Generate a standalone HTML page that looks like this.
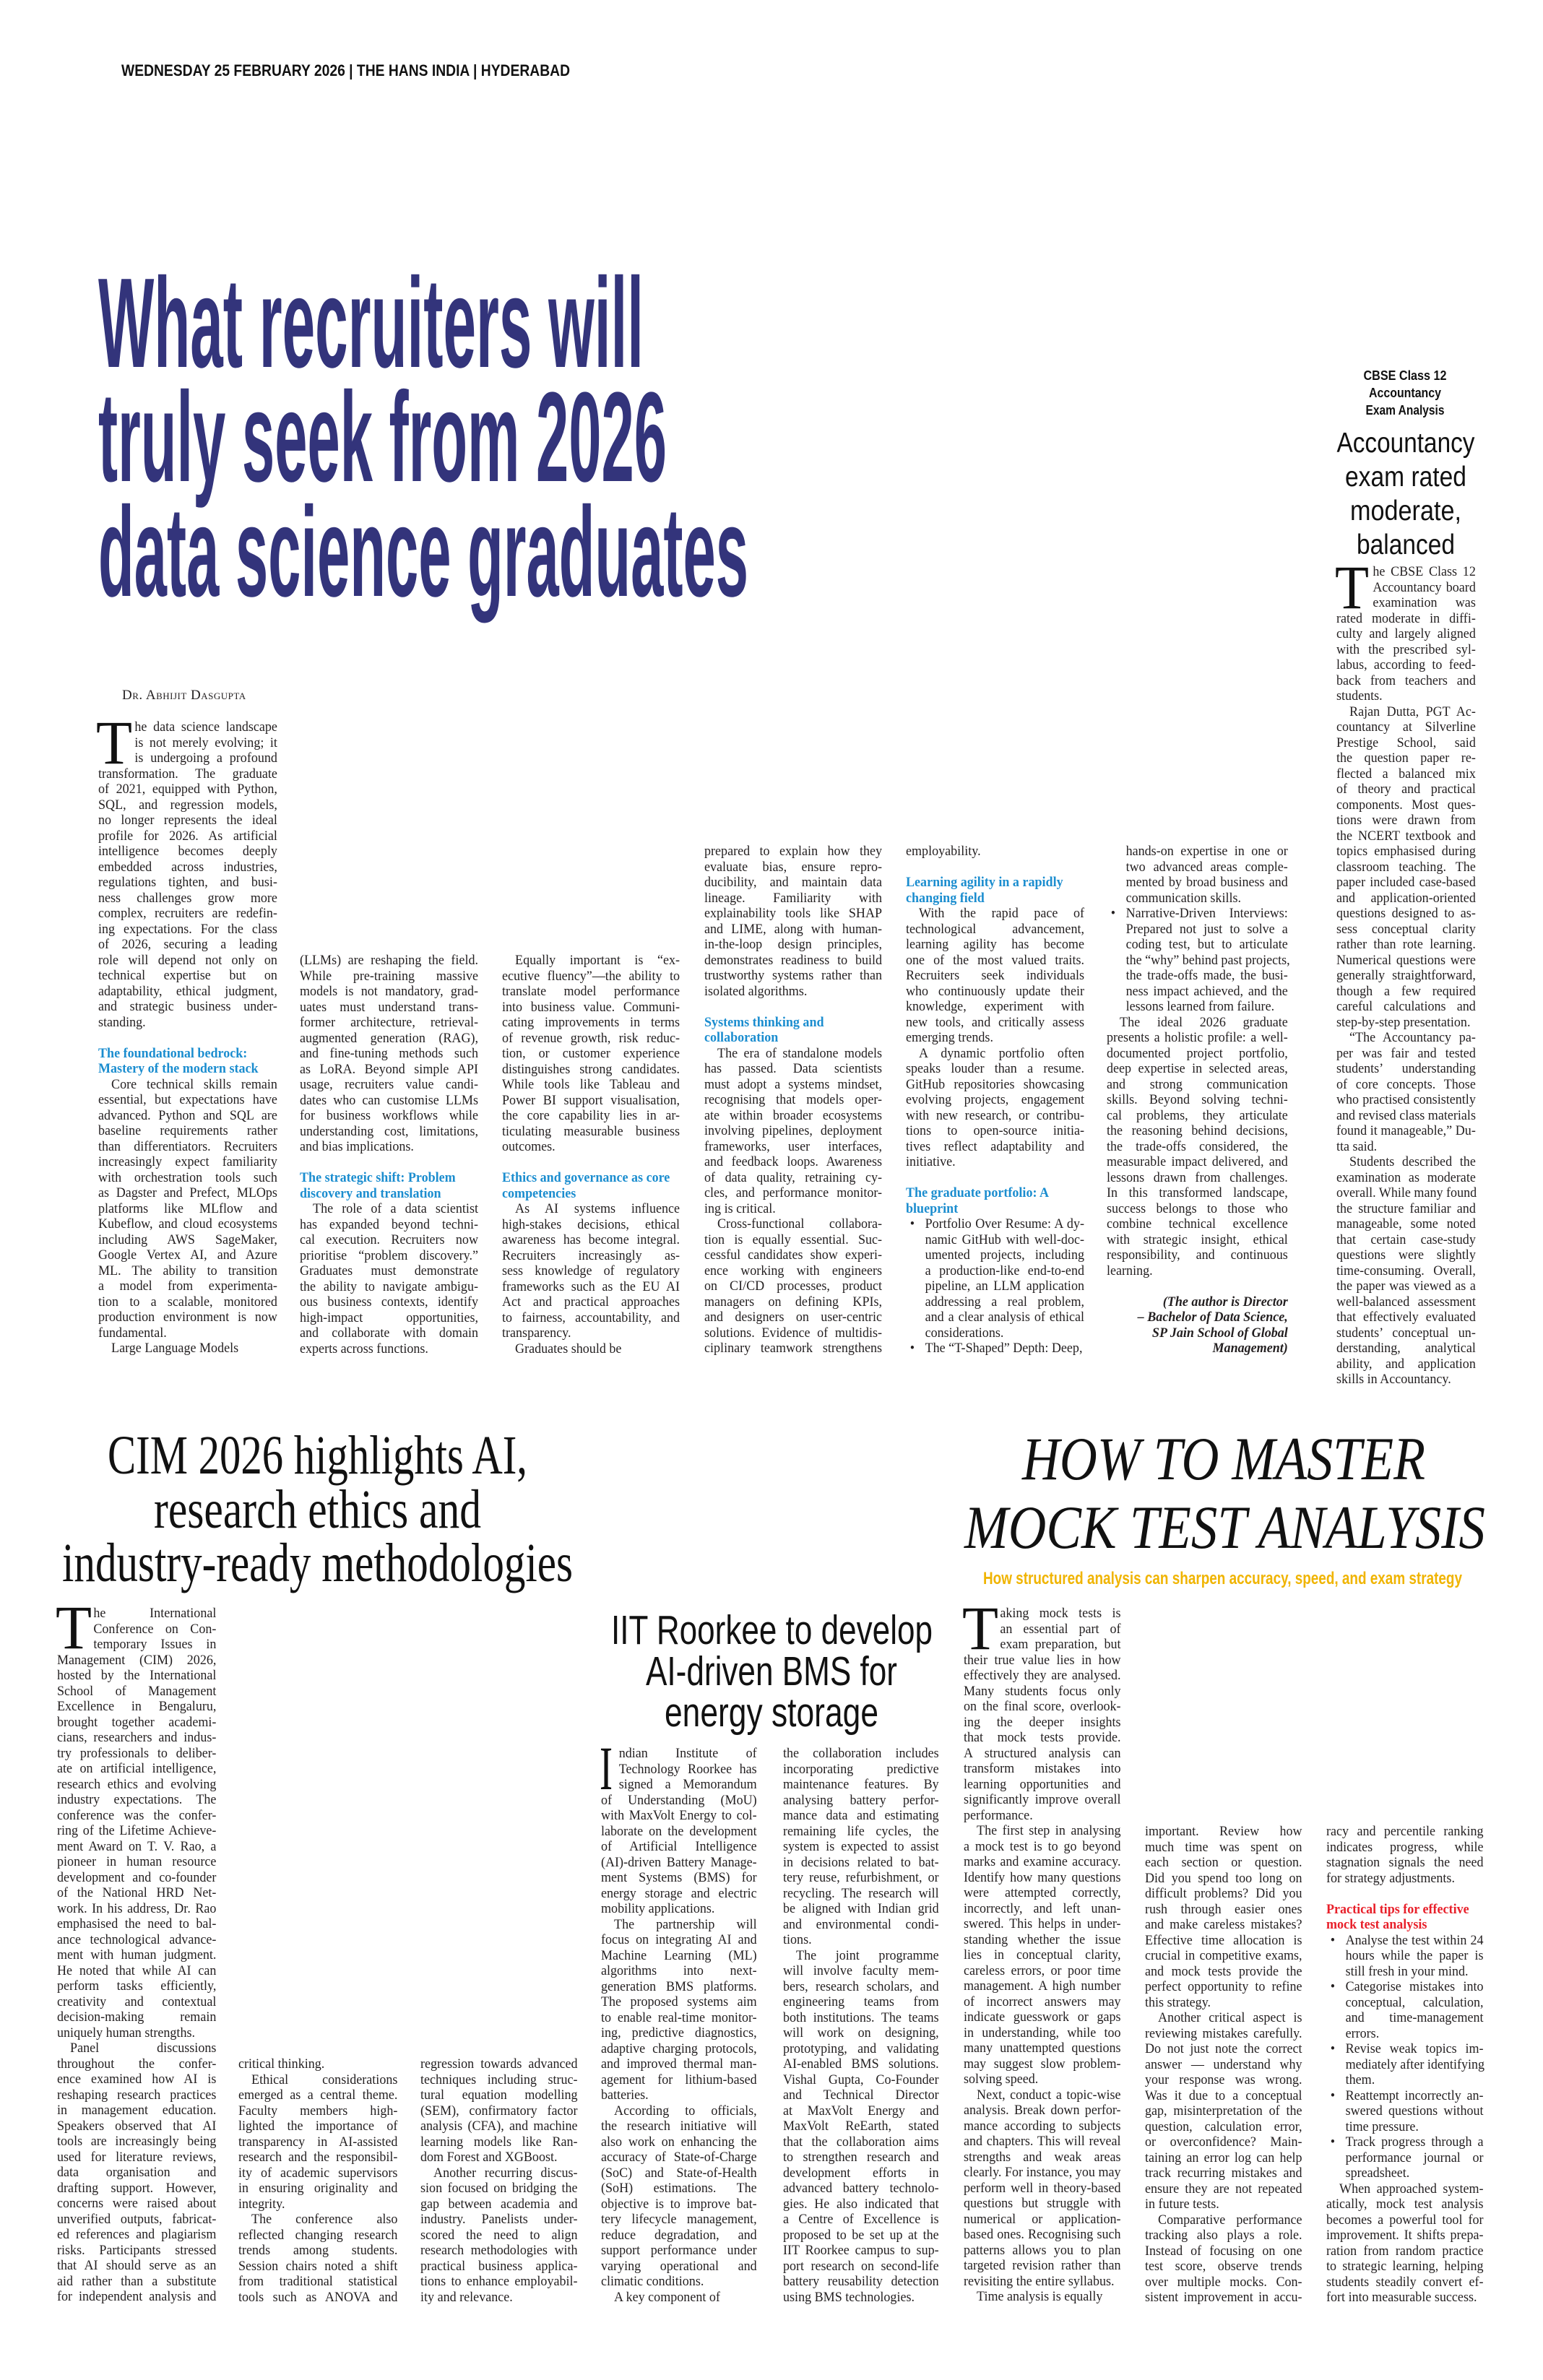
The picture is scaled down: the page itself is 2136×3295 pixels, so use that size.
<!DOCTYPE html>
<html><head><meta charset="utf-8">
<style>
html,body{margin:0;padding:0;background:#fff}
body{width:2136px;height:3295px;position:relative;overflow:hidden}
.col{position:absolute;font-family:"Liberation Serif",serif;font-size:19px;line-height:21.5px;color:#231f20;transform:scaleX(.95);transform-origin:0 0}
.col div{height:21.5px;white-space:nowrap;text-align:justify;text-align-last:justify}
.col div.e,.col div.h,.col div.r,.col div.x{text-align-last:left}
.col .i{padding-left:19px}
.col .d{padding-left:53px}
.col .dI{padding-left:26px}
.col .h{color:#1b8dcf;font-weight:bold}
.col .r{color:#e8202a;font-weight:bold}
.col .b{padding-left:28px;position:relative}
.col .b:before{content:"•";position:absolute;left:6px}
.col .bc{padding-left:28px}
.col .a{font-weight:bold;font-style:italic;text-align:right!important;text-align-last:right!important}
svg{position:absolute;left:0;top:0}
.by{position:absolute;left:169px;top:952px;font-family:"Liberation Serif",serif;font-size:19px;font-variant:small-caps;letter-spacing:.5px;color:#231f20}
</style></head><body>

<svg width="2136" height="3295" viewBox="0 0 2136 3295">
<text x="168" y="105" font-family="Liberation Sans Narrow, Liberation Sans, sans-serif" font-size="22" font-weight="bold" fill="#111" textLength="621" lengthAdjust="spacingAndGlyphs">WEDNESDAY 25 FEBRUARY 2026 | THE HANS INDIA | HYDERABAD</text>
<g font-family="Liberation Sans Narrow, Liberation Sans, sans-serif" font-weight="bold" font-size="177" fill="#33347b">
<text x="136" y="508" textLength="755" lengthAdjust="spacingAndGlyphs">What recruiters will</text>
<text x="136" y="666" textLength="787" lengthAdjust="spacingAndGlyphs">truly seek from 2026</text>
<text x="136" y="825" textLength="900" lengthAdjust="spacingAndGlyphs">data science graduates</text>
</g>
<g font-family="Liberation Sans Narrow, Liberation Sans, sans-serif" font-weight="bold" font-size="18" fill="#111" text-anchor="middle">
<text x="1945" y="526" textLength="115" lengthAdjust="spacingAndGlyphs">CBSE Class 12</text>
<text x="1945" y="550" textLength="100" lengthAdjust="spacingAndGlyphs">Accountancy</text>
<text x="1945" y="574" textLength="109" lengthAdjust="spacingAndGlyphs">Exam Analysis</text>
</g>
<g font-family="Liberation Sans Narrow, Liberation Sans, sans-serif" font-size="39" fill="#111" text-anchor="middle">
<text x="1946" y="626" textLength="191" lengthAdjust="spacingAndGlyphs">Accountancy</text>
<text x="1946" y="673" textLength="168" lengthAdjust="spacingAndGlyphs">exam rated</text>
<text x="1946" y="720" textLength="154" lengthAdjust="spacingAndGlyphs">moderate,</text>
<text x="1946" y="767" textLength="136" lengthAdjust="spacingAndGlyphs">balanced</text>
</g>
<g font-family="Liberation Serif, serif" font-size="76" fill="#111">
<text x="149" y="2040" textLength="581" lengthAdjust="spacingAndGlyphs">CIM 2026 highlights AI,</text>
<text x="213" y="2115" textLength="453" lengthAdjust="spacingAndGlyphs">research ethics and</text>
<text x="86" y="2189" textLength="707" lengthAdjust="spacingAndGlyphs">industry-ready methodologies</text>
</g>
<g font-family="Liberation Serif, serif" font-style="italic" font-size="85" fill="#111">
<text x="1415" y="2048" textLength="558" lengthAdjust="spacingAndGlyphs">HOW TO MASTER</text>
<text x="1335" y="2143" textLength="721" lengthAdjust="spacingAndGlyphs">MOCK TEST ANALYSIS</text>
</g>
<text x="1361" y="2193" font-family="Liberation Sans Narrow, Liberation Sans, sans-serif" font-weight="bold" font-size="24" fill="#f0b400" textLength="663" lengthAdjust="spacingAndGlyphs">How structured analysis can sharpen accuracy, speed, and exam strategy</text>
<g font-family="Liberation Sans Narrow, Liberation Sans, sans-serif" font-size="57" fill="#111">
<text x="846" y="2276" textLength="445" lengthAdjust="spacingAndGlyphs">IIT Roorkee to develop</text>
<text x="894" y="2333" textLength="348" lengthAdjust="spacingAndGlyphs">AI-driven BMS for</text>
<text x="920" y="2390" textLength="296" lengthAdjust="spacingAndGlyphs">energy storage</text>
</g>
<g font-family="Liberation Serif, serif" font-size="86" fill="#111">
<text x="133" y="1057" textLength="50" lengthAdjust="spacingAndGlyphs">T</text>
<text x="1848" y="842" textLength="47" lengthAdjust="spacingAndGlyphs">T</text>
<text x="77" y="2282" textLength="50" lengthAdjust="spacingAndGlyphs">T</text>
<text x="830" y="2477" textLength="18" lengthAdjust="spacingAndGlyphs">I</text>
<text x="1332" y="2283" textLength="50" lengthAdjust="spacingAndGlyphs">T</text>
</g>
</svg>

<div class="by">Dr. Abhijit Dasgupta</div>

<div class="col" style="left:136px;top:996px;width:261px">
<div class="d">he data science landscape</div>
<div class="d">is not merely evolving; it</div>
<div class="d">is undergoing a profound</div>
<div>transformation. The graduate</div>
<div>of 2021, equipped with Python,</div>
<div>SQL, and regression models,</div>
<div>no longer represents the ideal</div>
<div>profile for 2026. As artificial</div>
<div>intelligence becomes deeply</div>
<div>embedded across industries,</div>
<div>regulations tighten, and busi-</div>
<div>ness challenges grow more</div>
<div>complex, recruiters are redefin-</div>
<div>ing expectations. For the class</div>
<div>of 2026, securing a leading</div>
<div>role will depend not only on</div>
<div>technical expertise but on</div>
<div>adaptability, ethical judgment,</div>
<div>and strategic business under-</div>
<div class="e">standing.</div>
<div class="x"></div>
<div class="h">The foundational bedrock:</div>
<div class="h">Mastery of the modern stack</div>
<div class="i">Core technical skills remain</div>
<div>essential, but expectations have</div>
<div>advanced. Python and SQL are</div>
<div>baseline requirements rather</div>
<div>than differentiators. Recruiters</div>
<div>increasingly expect familiarity</div>
<div>with orchestration tools such</div>
<div>as Dagster and Prefect, MLOps</div>
<div>platforms like MLflow and</div>
<div>Kubeflow, and cloud ecosystems</div>
<div>including AWS SageMaker,</div>
<div>Google Vertex AI, and Azure</div>
<div>ML. The ability to transition</div>
<div>a model from experimenta-</div>
<div>tion to a scalable, monitored</div>
<div>production environment is now</div>
<div class="e">fundamental.</div>
<div class="i e">Large Language Models</div>
</div>

<div class="col" style="left:415px;top:1319px;width:260px">
<div>(LLMs) are reshaping the field.</div>
<div>While pre-training massive</div>
<div>models is not mandatory, grad-</div>
<div>uates must understand trans-</div>
<div>former architecture, retrieval-</div>
<div>augmented generation (RAG),</div>
<div>and fine-tuning methods such</div>
<div>as LoRA. Beyond simple API</div>
<div>usage, recruiters value candi-</div>
<div>dates who can customise LLMs</div>
<div>for business workflows while</div>
<div>understanding cost, limitations,</div>
<div class="e">and bias implications.</div>
<div class="x"></div>
<div class="h">The strategic shift: Problem</div>
<div class="h">discovery and translation</div>
<div class="i">The role of a data scientist</div>
<div>has expanded beyond techni-</div>
<div>cal execution. Recruiters now</div>
<div>prioritise &ldquo;problem discovery.&rdquo;</div>
<div>Graduates must demonstrate</div>
<div>the ability to navigate ambigu-</div>
<div>ous business contexts, identify</div>
<div>high-impact opportunities,</div>
<div>and collaborate with domain</div>
<div class="e">experts across functions.</div>
</div>

<div class="col" style="left:695px;top:1319px;width:259px">
<div class="i">Equally important is &ldquo;ex-</div>
<div>ecutive fluency&rdquo;&mdash;the ability to</div>
<div>translate model performance</div>
<div>into business value. Communi-</div>
<div>cating improvements in terms</div>
<div>of revenue growth, risk reduc-</div>
<div>tion, or customer experience</div>
<div>distinguishes strong candidates.</div>
<div>While tools like Tableau and</div>
<div>Power BI support visualisation,</div>
<div>the core capability lies in ar-</div>
<div>ticulating measurable business</div>
<div class="e">outcomes.</div>
<div class="x"></div>
<div class="h">Ethics and governance as core</div>
<div class="h">competencies</div>
<div class="i">As AI systems influence</div>
<div>high-stakes decisions, ethical</div>
<div>awareness has become integral.</div>
<div>Recruiters increasingly as-</div>
<div>sess knowledge of regulatory</div>
<div>frameworks such as the EU AI</div>
<div>Act and practical approaches</div>
<div>to fairness, accountability, and</div>
<div class="e">transparency.</div>
<div class="i e">Graduates should be</div>
</div>

<div class="col" style="left:975px;top:1168px;width:259px">
<div>prepared to explain how they</div>
<div>evaluate bias, ensure repro-</div>
<div>ducibility, and maintain data</div>
<div>lineage. Familiarity with</div>
<div>explainability tools like SHAP</div>
<div>and LIME, along with human-</div>
<div>in-the-loop design principles,</div>
<div>demonstrates readiness to build</div>
<div>trustworthy systems rather than</div>
<div class="e">isolated algorithms.</div>
<div class="x"></div>
<div class="h">Systems thinking and</div>
<div class="h">collaboration</div>
<div class="i">The era of standalone models</div>
<div>has passed. Data scientists</div>
<div>must adopt a systems mindset,</div>
<div>recognising that models oper-</div>
<div>ate within broader ecosystems</div>
<div>involving pipelines, deployment</div>
<div>frameworks, user interfaces,</div>
<div>and feedback loops. Awareness</div>
<div>of data quality, retraining cy-</div>
<div>cles, and performance monitor-</div>
<div class="e">ing is critical.</div>
<div class="i">Cross-functional collabora-</div>
<div>tion is equally essential. Suc-</div>
<div>cessful candidates show experi-</div>
<div>ence working with engineers</div>
<div>on CI/CD processes, product</div>
<div>managers on defining KPIs,</div>
<div>and designers on user-centric</div>
<div>solutions. Evidence of multidis-</div>
<div>ciplinary teamwork strengthens</div>
</div>

<div class="col" style="left:1254px;top:1168px;width:260px">
<div class="e">employability.</div>
<div class="x"></div>
<div class="h">Learning agility in a rapidly</div>
<div class="h">changing field</div>
<div class="i">With the rapid pace of</div>
<div>technological advancement,</div>
<div>learning agility has become</div>
<div>one of the most valued traits.</div>
<div>Recruiters seek individuals</div>
<div>who continuously update their</div>
<div>knowledge, experiment with</div>
<div>new tools, and critically assess</div>
<div class="e">emerging trends.</div>
<div class="i">A dynamic portfolio often</div>
<div>speaks louder than a resume.</div>
<div>GitHub repositories showcasing</div>
<div>evolving projects, engagement</div>
<div>with new research, or contribu-</div>
<div>tions to open-source initia-</div>
<div>tives reflect adaptability and</div>
<div class="e">initiative.</div>
<div class="x"></div>
<div class="h">The graduate portfolio: A</div>
<div class="h">blueprint</div>
<div class="b">Portfolio Over Resume: A dy-</div>
<div class="bc">namic GitHub with well-doc-</div>
<div class="bc">umented projects, including</div>
<div class="bc">a production-like end-to-end</div>
<div class="bc">pipeline, an LLM application</div>
<div class="bc">addressing a real problem,</div>
<div class="bc">and a clear analysis of ethical</div>
<div class="bc e">considerations.</div>
<div class="b e">The &ldquo;T-Shaped&rdquo; Depth: Deep,</div>
</div>

<div class="col" style="left:1532px;top:1168px;width:264px">
<div class="bc">hands-on expertise in one or</div>
<div class="bc">two advanced areas comple-</div>
<div class="bc">mented by broad business and</div>
<div class="bc e">communication skills.</div>
<div class="b">Narrative-Driven Interviews:</div>
<div class="bc">Prepared not just to solve a</div>
<div class="bc">coding test, but to articulate</div>
<div class="bc">the &ldquo;why&rdquo; behind past projects,</div>
<div class="bc">the trade-offs made, the busi-</div>
<div class="bc">ness impact achieved, and the</div>
<div class="bc e">lessons learned from failure.</div>
<div class="i">The ideal 2026 graduate</div>
<div>presents a holistic profile: a well-</div>
<div>documented project portfolio,</div>
<div>deep expertise in selected areas,</div>
<div>and strong communication</div>
<div>skills. Beyond solving techni-</div>
<div>cal problems, they articulate</div>
<div>the reasoning behind decisions,</div>
<div>the trade-offs considered, the</div>
<div>measurable impact delivered, and</div>
<div>lessons drawn from challenges.</div>
<div>In this transformed landscape,</div>
<div>success belongs to those who</div>
<div>combine technical excellence</div>
<div>with strategic insight, ethical</div>
<div>responsibility, and continuous</div>
<div class="e">learning.</div>
<div class="x"></div>
<div class="a">(The author is Director</div>
<div class="a">&ndash; Bachelor of Data Science,</div>
<div class="a">SP Jain School of Global</div>
<div class="a">Management)</div>
</div>

<div class="col" style="left:1850px;top:781px;width:203px">
<div class="d">he CBSE Class 12</div>
<div class="d">Accountancy board</div>
<div class="d">examination was</div>
<div>rated moderate in diffi-</div>
<div>culty and largely aligned</div>
<div>with the prescribed syl-</div>
<div>labus, according to feed-</div>
<div>back from teachers and</div>
<div class="e">students.</div>
<div class="i">Rajan Dutta, PGT Ac-</div>
<div>countancy at Silverline</div>
<div>Prestige School, said</div>
<div>the question paper re-</div>
<div>flected a balanced mix</div>
<div>of theory and practical</div>
<div>components. Most ques-</div>
<div>tions were drawn from</div>
<div>the NCERT textbook and</div>
<div>topics emphasised during</div>
<div>classroom teaching. The</div>
<div>paper included case-based</div>
<div>and application-oriented</div>
<div>questions designed to as-</div>
<div>sess conceptual clarity</div>
<div>rather than rote learning.</div>
<div>Numerical questions were</div>
<div>generally straightforward,</div>
<div>though a few required</div>
<div>careful calculations and</div>
<div class="e">step-by-step presentation.</div>
<div class="i">&ldquo;The Accountancy pa-</div>
<div>per was fair and tested</div>
<div>students&rsquo; understanding</div>
<div>of core concepts. Those</div>
<div>who practised consistently</div>
<div>and revised class materials</div>
<div>found it manageable,&rdquo; Du-</div>
<div class="e">tta said.</div>
<div class="i">Students described the</div>
<div>examination as moderate</div>
<div>overall. While many found</div>
<div>the structure familiar and</div>
<div>manageable, some noted</div>
<div>that certain case-study</div>
<div>questions were slightly</div>
<div>time-consuming. Overall,</div>
<div>the paper was viewed as a</div>
<div>well-balanced assessment</div>
<div>that effectively evaluated</div>
<div>students&rsquo; conceptual un-</div>
<div>derstanding, analytical</div>
<div>ability, and application</div>
<div class="e">skills in Accountancy.</div>
</div>

<div class="col" style="left:79px;top:2223px;width:232px">
<div class="d">he International</div>
<div class="d">Conference on Con-</div>
<div class="d">temporary Issues in</div>
<div>Management (CIM) 2026,</div>
<div>hosted by the International</div>
<div>School of Management</div>
<div>Excellence in Bengaluru,</div>
<div>brought together academi-</div>
<div>cians, researchers and indus-</div>
<div>try professionals to deliber-</div>
<div>ate on artificial intelligence,</div>
<div>research ethics and evolving</div>
<div>industry expectations. The</div>
<div>conference was the confer-</div>
<div>ring of the Lifetime Achieve-</div>
<div>ment Award on T. V. Rao, a</div>
<div>pioneer in human resource</div>
<div>development and co-founder</div>
<div>of the National HRD Net-</div>
<div>work. In his address, Dr. Rao</div>
<div>emphasised the need to bal-</div>
<div>ance technological advance-</div>
<div>ment with human judgment.</div>
<div>He noted that while AI can</div>
<div>perform tasks efficiently,</div>
<div>creativity and contextual</div>
<div>decision-making remain</div>
<div class="e">uniquely human strengths.</div>
<div class="i">Panel discussions</div>
<div>throughout the confer-</div>
<div>ence examined how AI is</div>
<div>reshaping research practices</div>
<div>in management education.</div>
<div>Speakers observed that AI</div>
<div>tools are increasingly being</div>
<div>used for literature reviews,</div>
<div>data organisation and</div>
<div>drafting support. However,</div>
<div>concerns were raised about</div>
<div>unverified outputs, fabricat-</div>
<div>ed references and plagiarism</div>
<div>risks. Participants stressed</div>
<div>that AI should serve as an</div>
<div>aid rather than a substitute</div>
<div>for independent analysis and</div>
</div>

<div class="col" style="left:330px;top:2847px;width:232px">
<div class="e">critical thinking.</div>
<div class="i">Ethical considerations</div>
<div>emerged as a central theme.</div>
<div>Faculty members high-</div>
<div>lighted the importance of</div>
<div>transparency in AI-assisted</div>
<div>research and the responsibil-</div>
<div>ity of academic supervisors</div>
<div>in ensuring originality and</div>
<div class="e">integrity.</div>
<div class="i">The conference also</div>
<div>reflected changing research</div>
<div>trends among students.</div>
<div>Session chairs noted a shift</div>
<div>from traditional statistical</div>
<div>tools such as ANOVA and</div>
</div>

<div class="col" style="left:582px;top:2847px;width:229px">
<div>regression towards advanced</div>
<div>techniques including struc-</div>
<div>tural equation modelling</div>
<div>(SEM), confirmatory factor</div>
<div>analysis (CFA), and machine</div>
<div>learning models like Ran-</div>
<div class="e">dom Forest and XGBoost.</div>
<div class="i">Another recurring discus-</div>
<div>sion focused on bridging the</div>
<div>gap between academia and</div>
<div>industry. Panelists under-</div>
<div>scored the need to align</div>
<div>research methodologies with</div>
<div>practical business applica-</div>
<div>tions to enhance employabil-</div>
<div class="e">ity and relevance.</div>
</div>

<div class="col" style="left:832px;top:2417px;width:227px">
<div class="dI">ndian Institute of</div>
<div class="dI">Technology Roorkee has</div>
<div class="dI">signed a Memorandum</div>
<div>of Understanding (MoU)</div>
<div>with MaxVolt Energy to col-</div>
<div>laborate on the development</div>
<div>of Artificial Intelligence</div>
<div>(AI)-driven Battery Manage-</div>
<div>ment Systems (BMS) for</div>
<div>energy storage and electric</div>
<div class="e">mobility applications.</div>
<div class="i">The partnership will</div>
<div>focus on integrating AI and</div>
<div>Machine Learning (ML)</div>
<div>algorithms into next-</div>
<div>generation BMS platforms.</div>
<div>The proposed systems aim</div>
<div>to enable real-time monitor-</div>
<div>ing, predictive diagnostics,</div>
<div>adaptive charging protocols,</div>
<div>and improved thermal man-</div>
<div>agement for lithium-based</div>
<div class="e">batteries.</div>
<div class="i">According to officials,</div>
<div>the research initiative will</div>
<div>also work on enhancing the</div>
<div>accuracy of State-of-Charge</div>
<div>(SoC) and State-of-Health</div>
<div>(SoH) estimations. The</div>
<div>objective is to improve bat-</div>
<div>tery lifecycle management,</div>
<div>reduce degradation, and</div>
<div>support performance under</div>
<div>varying operational and</div>
<div class="e">climatic conditions.</div>
<div class="i e">A key component of</div>
</div>

<div class="col" style="left:1084px;top:2417px;width:227px">
<div>the collaboration includes</div>
<div>incorporating predictive</div>
<div>maintenance features. By</div>
<div>analysing battery perfor-</div>
<div>mance data and estimating</div>
<div>remaining life cycles, the</div>
<div>system is expected to assist</div>
<div>in decisions related to bat-</div>
<div>tery reuse, refurbishment, or</div>
<div>recycling. The research will</div>
<div>be aligned with Indian grid</div>
<div>and environmental condi-</div>
<div class="e">tions.</div>
<div class="i">The joint programme</div>
<div>will involve faculty mem-</div>
<div>bers, research scholars, and</div>
<div>engineering teams from</div>
<div>both institutions. The teams</div>
<div>will work on designing,</div>
<div>prototyping, and validating</div>
<div>AI-enabled BMS solutions.</div>
<div>Vishal Gupta, Co-Founder</div>
<div>and Technical Director</div>
<div>at MaxVolt Energy and</div>
<div>MaxVolt ReEarth, stated</div>
<div>that the collaboration aims</div>
<div>to strengthen research and</div>
<div>development efforts in</div>
<div>advanced battery technolo-</div>
<div>gies. He also indicated that</div>
<div>a Centre of Excellence is</div>
<div>proposed to be set up at the</div>
<div>IIT Roorkee campus to sup-</div>
<div>port research on second-life</div>
<div>battery reusability detection</div>
<div class="e">using BMS technologies.</div>
</div>

<div class="col" style="left:1334px;top:2223px;width:229px">
<div class="d">aking mock tests is</div>
<div class="d">an essential part of</div>
<div class="d">exam preparation, but</div>
<div>their true value lies in how</div>
<div>effectively they are analysed.</div>
<div>Many students focus only</div>
<div>on the final score, overlook-</div>
<div>ing the deeper insights</div>
<div>that mock tests provide.</div>
<div>A structured analysis can</div>
<div>transform mistakes into</div>
<div>learning opportunities and</div>
<div>significantly improve overall</div>
<div class="e">performance.</div>
<div class="i">The first step in analysing</div>
<div>a mock test is to go beyond</div>
<div>marks and examine accuracy.</div>
<div>Identify how many questions</div>
<div>were attempted correctly,</div>
<div>incorrectly, and left unan-</div>
<div>swered. This helps in under-</div>
<div>standing whether the issue</div>
<div>lies in conceptual clarity,</div>
<div>careless errors, or poor time</div>
<div>management. A high number</div>
<div>of incorrect answers may</div>
<div>indicate guesswork or gaps</div>
<div>in understanding, while too</div>
<div>many unattempted questions</div>
<div>may suggest slow problem-</div>
<div class="e">solving speed.</div>
<div class="i">Next, conduct a topic-wise</div>
<div>analysis. Break down perfor-</div>
<div>mance according to subjects</div>
<div>and chapters. This will reveal</div>
<div>strengths and weak areas</div>
<div>clearly. For instance, you may</div>
<div>perform well in theory-based</div>
<div>questions but struggle with</div>
<div>numerical or application-</div>
<div>based ones. Recognising such</div>
<div>patterns allows you to plan</div>
<div>targeted revision rather than</div>
<div class="e">revisiting the entire syllabus.</div>
<div class="i e">Time analysis is equally</div>
</div>

<div class="col" style="left:1585px;top:2525px;width:229px">
<div>important. Review how</div>
<div>much time was spent on</div>
<div>each section or question.</div>
<div>Did you spend too long on</div>
<div>difficult problems? Did you</div>
<div>rush through easier ones</div>
<div>and make careless mistakes?</div>
<div>Effective time allocation is</div>
<div>crucial in competitive exams,</div>
<div>and mock tests provide the</div>
<div>perfect opportunity to refine</div>
<div class="e">this strategy.</div>
<div class="i">Another critical aspect is</div>
<div>reviewing mistakes carefully.</div>
<div>Do not just note the correct</div>
<div>answer &mdash; understand why</div>
<div>your response was wrong.</div>
<div>Was it due to a conceptual</div>
<div>gap, misinterpretation of the</div>
<div>question, calculation error,</div>
<div>or overconfidence? Main-</div>
<div>taining an error log can help</div>
<div>track recurring mistakes and</div>
<div>ensure they are not repeated</div>
<div class="e">in future tests.</div>
<div class="i">Comparative performance</div>
<div>tracking also plays a role.</div>
<div>Instead of focusing on one</div>
<div>test score, observe trends</div>
<div>over multiple mocks. Con-</div>
<div>sistent improvement in accu-</div>
</div>

<div class="col" style="left:1836px;top:2525px;width:229px">
<div>racy and percentile ranking</div>
<div>indicates progress, while</div>
<div>stagnation signals the need</div>
<div class="e">for strategy adjustments.</div>
<div class="x"></div>
<div class="r">Practical tips for effective</div>
<div class="r">mock test analysis</div>
<div class="b">Analyse the test within 24</div>
<div class="bc">hours while the paper is</div>
<div class="bc e">still fresh in your mind.</div>
<div class="b">Categorise mistakes into</div>
<div class="bc">conceptual, calculation,</div>
<div class="bc">and time-management</div>
<div class="bc e">errors.</div>
<div class="b">Revise weak topics im-</div>
<div class="bc">mediately after identifying</div>
<div class="bc e">them.</div>
<div class="b">Reattempt incorrectly an-</div>
<div class="bc">swered questions without</div>
<div class="bc e">time pressure.</div>
<div class="b">Track progress through a</div>
<div class="bc">performance journal or</div>
<div class="bc e">spreadsheet.</div>
<div class="i">When approached system-</div>
<div>atically, mock test analysis</div>
<div>becomes a powerful tool for</div>
<div>improvement. It shifts prepa-</div>
<div>ration from random practice</div>
<div>to strategic learning, helping</div>
<div>students steadily convert ef-</div>
<div class="e">fort into measurable success.</div>
</div>

</body></html>
